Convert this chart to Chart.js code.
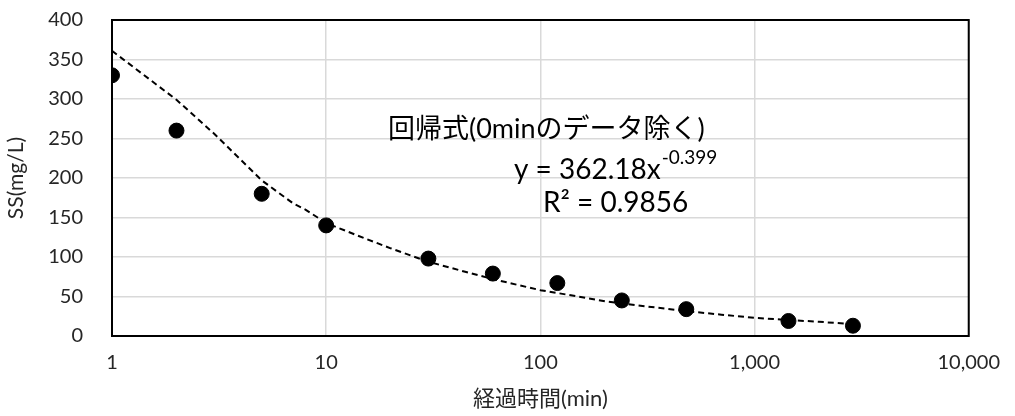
<!DOCTYPE html>
<html>
<head>
<meta charset="utf-8">
<script src="https://cdn.jsdelivr.net/npm/chart.js@4"></script>
<style>
  html, body { margin: 0; padding: 0; background: #fff; }
</style>
</head>
<body>
<canvas id="grafico" width="1015" height="416"></canvas>
<script>
// datos medidos
const tiempos = [1, 2, 5, 10, 30, 60, 120, 240, 480, 1440, 2880];
const ss = [330, 260, 180, 140, 98, 79, 67, 45, 34, 19, 13];

// linea de tendencia
const tendX = [1, 2, 3, 5, 7, 8, 10, 15, 20, 30, 45, 60, 100, 150, 200, 300, 500, 700, 1000, 1500, 2000, 2880];
const tendY = [361, 299, 256, 197, 168, 160, 143, 124, 111, 94, 81, 72, 58, 50, 44, 38, 31, 27, 23, 20, 18, 15];

const ticksX = [1, 10, 100, 1000, 10000];

const fuente = "Lato, 'Noto Sans CJK JP', sans-serif";

// marco y texto del regresion
const marco = {
  id: 'marco',
  afterDraw(chart) {
    const { ctx, chartArea: a } = chart;
    ctx.save();
    ctx.strokeStyle = '#000';
    ctx.lineWidth = 2;
    ctx.strokeRect(a.left, a.top, a.right - a.left, a.bottom - a.top);

    ctx.fillStyle = '#000';
    ctx.textBaseline = 'middle';
    ctx.textAlign = 'left';
    ctx.font = '27px ' + fuente;
    ctx.fillText('回帰式(0minのデータ除く)', 388, 129);

    ctx.font = '28px ' + fuente;
    ctx.fillText('y = 362.18x', 514, 170);
    const w = ctx.measureText('y = 362.18x').width;
    ctx.font = '19px ' + fuente;
    ctx.fillText('-0.399', 515 + w, 158);

    ctx.font = '28px ' + fuente;
    ctx.fillText('R² = 0.9856', 543, 203);
    ctx.restore();
  }
};

new Chart(document.getElementById('grafico'), {
  type: 'scatter',
  data: {
    datasets: [
      {
        label: 'SS',
        data: tiempos.map((t, i) => ({ x: t, y: ss[i] })),
        backgroundColor: '#000',
        borderColor: '#000',
        pointRadius: 7.5,
        pointHoverRadius: 7.5,
        order: 1
      },
      {
        label: 'tendencia',
        type: 'line',
        data: tendX.map((t, i) => ({ x: t, y: tendY[i] })),
        borderColor: '#000',
        borderWidth: 2,
        borderDash: [6, 4],
        pointRadius: 0,
        tension: 0,
        fill: false,
        order: 2
      }
    ]
  },
  options: {
    responsive: false,
    animation: false,
    devicePixelRatio: 1,
    layout: { padding: { top: 20, right: 45, left: 0, bottom: 0 } },
    plugins: { legend: { display: false }, tooltip: { enabled: false } },
    scales: {
      x: {
        type: 'logarithmic',
        min: 1,
        max: 10000,
        afterBuildTicks: s => { s.ticks = ticksX.map(v => ({ value: v })); },
        afterFit: s => { s.height = 80; },
        ticks: {
          color: '#262626',
          font: { family: fuente, size: 20 },
          padding: 15,
          maxRotation: 0,
          callback: v => v.toLocaleString('en-US')
        },
        grid: { color: '#d9d9d9', lineWidth: 1.5, drawTicks: false },
        border: { display: false },
        title: {
          display: true,
          text: '経過時間(min)',
          color: '#262626',
          font: { family: fuente, size: 22 },
          padding: { top: 2 }
        }
      },
      y: {
        min: 0,
        max: 400,
        afterFit: s => { s.width = 112; s.paddingTop = 0; s.paddingBottom = 0; },
        ticks: {
          stepSize: 50,
          color: '#262626',
          font: { family: fuente, size: 20 },
          padding: 29
        },
        grid: { color: '#d9d9d9', lineWidth: 1.5, drawTicks: false },
        border: { display: false },
        title: {
          display: true,
          text: 'SS(mg/L)',
          color: '#262626',
          font: { family: fuente, size: 21 },
          padding: { bottom: 0 }
        }
      }
    }
  },
  plugins: [marco]
});
</script>
</body>
</html>
